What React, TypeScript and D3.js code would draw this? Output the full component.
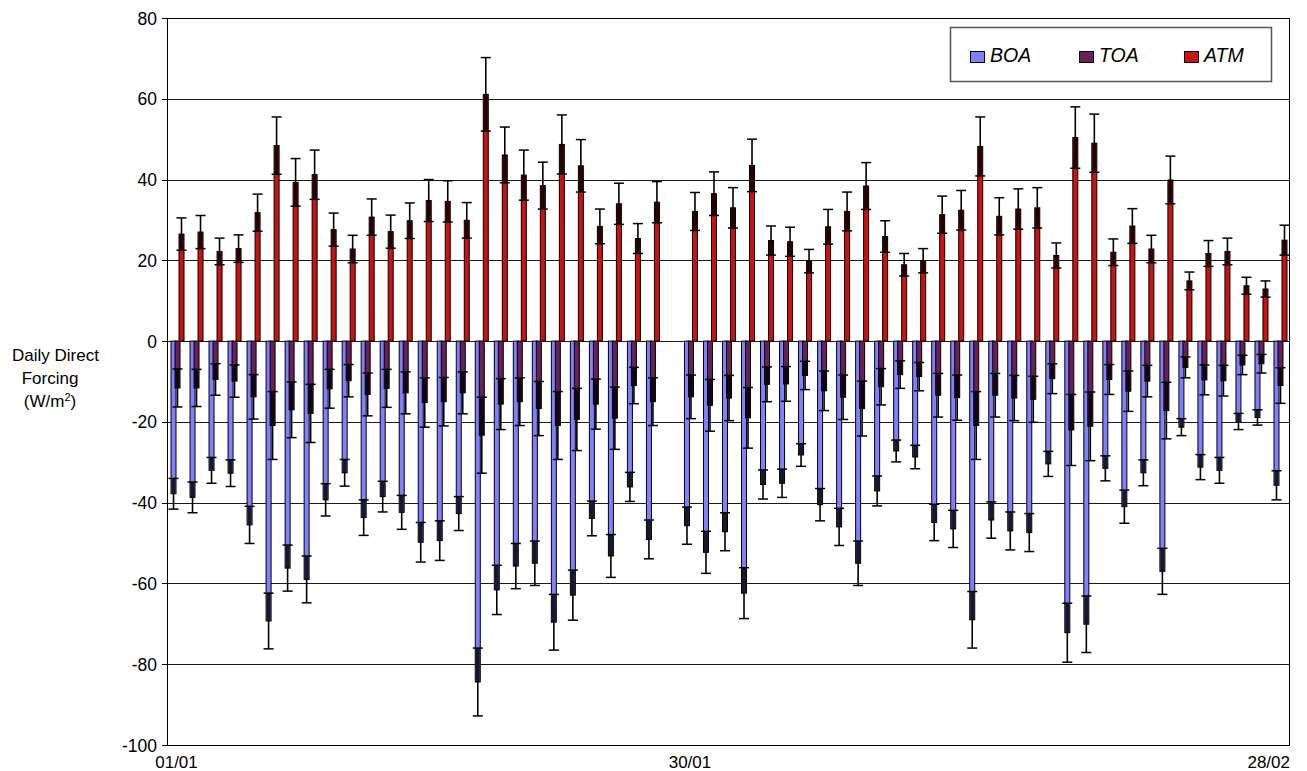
import React from "react";
import * as d3 from "d3";

// ---- data ----
const categoryCount = 59; // 01/01 .. 28/02 daily slots
const tickLabels = ["01/01", "30/01", "28/02"];
const tickCategory = [0, 27, 58];
const yTicks = [-100, -80, -60, -40, -20, 0, 20, 40, 60, 80];

const seriesNames = ["BOA", "TOA", "ATM"];
const seriesColors = ["#8080ff", "#6a1f55", "#cc1111"];

const ATM: (number | null)[] = [
  26.5, 27.0, 22.2, 22.9, 31.8, 48.4, 39.3, 41.2, 27.6, 22.8, 30.7, 27.1, 29.8, 34.8, 34.6, 29.9,
  61.1, 46.1, 41.1, 38.5, 48.7, 43.4, 28.4, 34.0, 25.4, 34.4, null, 32.1, 36.5, 33.0, 43.5, 24.9,
  24.6, 19.8, 28.3, 32.1, 38.4, 25.9, 18.9, 19.9, 31.3, 32.4, 48.2, 30.9, 32.7, 33.0, 21.2, 50.4,
  49.0, 22.0, 28.5, 22.8, 39.9, 14.9, 21.7, 22.2, 13.7, 12.9, 25.0,
];
const ATMerr: (number | null)[] = [
  4.0, 4.1, 3.3, 3.4, 4.6, 7.1, 5.9, 6.1, 4.1, 3.4, 4.5, 4.1, 4.4, 5.2, 5.1, 4.4,
  9.1, 6.9, 6.2, 5.8, 7.3, 6.5, 4.3, 5.1, 3.7, 5.1, null, 4.7, 5.4, 5.0, 6.5, 3.6,
  3.6, 2.9, 4.3, 4.8, 5.8, 3.9, 2.8, 3.0, 4.6, 4.9, 7.3, 4.6, 5.0, 5.0, 3.1, 7.6,
  7.2, 3.3, 4.3, 3.4, 5.9, 2.2, 3.2, 3.3, 2.1, 2.0, 3.7,
];
const TOA: (number | null)[] = [
  -11.6, -11.6, -9.5, -9.9, -13.8, -20.9, -17.0, -17.9, -11.8, -9.8, -13.2, -11.7, -12.8, -15.2, -15.0, -12.8,
  -23.3, -15.6, -15.0, -16.7, -20.9, -19.4, -15.6, -19.1, -11.0, -15.0, null, -13.8, -15.9, -14.1, -19.0, -10.7,
  -10.6, -8.5, -12.3, -13.9, -16.7, -11.3, -8.3, -8.8, -13.4, -14.0, -20.9, -13.4, -14.1, -14.4, -9.3, -22.0,
  -21.1, -9.5, -12.4, -9.9, -17.2, -6.5, -9.6, -9.8, -5.9, -5.6, -11.0,
];
const TOAerr: (number | null)[] = [
  4.7, 4.6, 3.9, 4.0, 5.5, 8.4, 6.9, 7.2, 4.8, 4.0, 5.3, 4.7, 5.2, 6.1, 6.0, 5.2,
  9.4, 6.3, 5.9, 6.7, 8.4, 7.7, 6.2, 7.7, 4.5, 5.9, null, 5.4, 6.4, 5.6, 7.5, 4.3,
  4.3, 3.5, 4.9, 5.5, 6.8, 4.5, 3.4, 3.5, 5.4, 5.6, 8.4, 5.4, 5.6, 5.7, 3.7, 8.8,
  8.5, 3.7, 5.0, 3.9, 7.0, 2.6, 3.7, 3.8, 2.4, 2.3, 4.4,
];
const BOA: (number | null)[] = [
  -37.8, -38.7, -32.0, -32.7, -45.5, -69.3, -56.2, -59.0, -39.3, -32.6, -43.7, -38.5, -42.4, -49.8, -49.4, -42.7,
  -84.4, -61.6, -55.7, -55.0, -69.6, -62.9, -43.9, -53.2, -36.1, -49.1, null, -45.7, -52.3, -47.2, -62.4, -35.5,
  -35.2, -28.2, -40.5, -46.0, -55.0, -37.1, -27.2, -28.7, -44.9, -46.5, -69.0, -44.3, -47.0, -47.4, -30.4, -72.2,
  -70.1, -31.5, -41.0, -32.6, -57.0, -21.3, -31.2, -32.0, -19.9, -18.9, -35.7,
];
const BOAerr: (number | null)[] = [
  3.8, 3.8, 3.2, 3.3, 4.6, 6.9, 5.7, 5.8, 4.0, 3.3, 4.4, 3.8, 4.2, 4.9, 4.9, 4.2,
  8.4, 6.1, 5.6, 5.5, 6.9, 6.2, 4.3, 5.3, 3.6, 4.8, null, 4.6, 5.2, 4.7, 6.3, 3.6,
  3.5, 2.8, 4.0, 4.6, 5.5, 3.7, 2.7, 2.9, 4.5, 4.6, 7.0, 4.5, 4.7, 4.7, 3.1, 7.3,
  7.0, 3.1, 4.1, 3.2, 5.7, 2.1, 3.1, 3.2, 2.0, 1.9, 3.6,
];

const seriesValues = [BOA, TOA, ATM];
const seriesErrors = [BOAerr, TOAerr, ATMerr];

// ---- layout ----
const W = 1307;
const H = 771;
const plot = { left: 167, right: 1289, top: 18, bottom: 745 };
const FONT = "'Liberation Sans', Arial, Helvetica, sans-serif";

export default function App() {
  const x = d3
    .scaleBand<number>()
    .domain(d3.range(categoryCount))
    .range([plot.left, plot.right])
    .padding(0);
  const y = d3.scaleLinear().domain([-100, 80]).range([plot.bottom, plot.top]);
  const barW = 5;
  const offsets = [-3, 1, 5];
  const capHalf = 5;
  const crisp = (v: number) => Math.round(v) + 0.5;

  const marks: React.ReactNode[] = [];
  d3.range(categoryCount).forEach((i) => {
    const c = (x(i) as number) + x.bandwidth() / 2;
    seriesValues.forEach((vals, s) => {
      const v = vals[i];
      const e = seriesErrors[s][i];
      if (v == null || e == null) return;
      const cx = c + offsets[s];
      const sign = v >= 0 ? 1 : -1;
      const y0 = y(0);
      const yv = y(v);
      const yOuter = y(v + sign * e);
      const yInner = y(v - sign * e);
      marks.push(
        <g key={`${i}-${s}`}>
          <rect
            x={cx - barW / 2}
            y={Math.min(y0, yv)}
            width={barW}
            height={Math.abs(yv - y0)}
            fill={seriesColors[s]}
            stroke="#000"
            strokeWidth={1}
          />
          <rect
            x={cx - barW / 2 + 0.5}
            y={Math.min(yv, yInner)}
            width={barW - 1}
            height={Math.abs(yInner - yv)}
            fill="#000"
            fillOpacity={0.82}
          />
          <line x1={cx} x2={cx} y1={yv} y2={yOuter} stroke="#000" strokeWidth={1.6} />
          <line x1={cx - capHalf} x2={cx + capHalf} y1={yOuter} y2={yOuter} stroke="#000" strokeWidth={1.5} />
          <line x1={cx - capHalf} x2={cx + capHalf} y1={yInner} y2={yInner} stroke="#000" strokeWidth={1.5} />
        </g>
      );
    });
  });

  const legendX = [970, 1079, 1184];

  return (
    <svg
      width={W}
      height={H}
      style={{ position: "absolute", left: 0, top: 0, background: "#fff" }}
      fontFamily={FONT}
    >
      <rect x={0} y={0} width={W} height={H} fill="#fff" />
      {/* gridlines */}
      {yTicks.map((t) => (
        <line
          key={`g${t}`}
          x1={plot.left}
          x2={plot.right}
          y1={crisp(y(t))}
          y2={crisp(y(t))}
          stroke="#1a1a1a"
          strokeWidth={1}
        />
      ))}
      {/* plot border */}
      <rect
        x={crisp(plot.left)}
        y={crisp(plot.top)}
        width={plot.right - plot.left}
        height={plot.bottom - plot.top}
        fill="none"
        stroke="#000"
        strokeWidth={1}
      />
      {/* y ticks */}
      {yTicks.map((t) => (
        <g key={`t${t}`}>
          <line x1={162} x2={plot.left} y1={crisp(y(t))} y2={crisp(y(t))} stroke="#000" strokeWidth={1} />
          <text x={157} y={y(t) + 6.5} textAnchor="end" fontSize={17.5} fill="#000">
            {t}
          </text>
        </g>
      ))}
      {marks}
      {/* x labels */}
      {tickLabels.map((lab, k) => {
        const cx = (x(tickCategory[k]) as number) + x.bandwidth() / 2;
        const half = 14.5;
        const overflow = cx + half > plot.right + 1;
        return (
          <text
            key={lab}
            x={overflow ? plot.right + 1 : cx}
            y={768}
            textAnchor={overflow ? "end" : "middle"}
            fontSize={17}
            fill="#000"
          >
            {lab}
          </text>
        );
      })}
      {/* y title */}
      <text fontSize={17} fill="#000" textAnchor="middle">
        <tspan x={55.5} y={361}>Daily Direct</tspan>
        <tspan x={50} y={384}>Forcing</tspan>
        <tspan x={50} y={407}>
          (W/m<tspan baselineShift="super" fontSize={11}>2</tspan>)
        </tspan>
      </text>
      {/* legend */}
      <rect x={950.5} y={27.5} width={321} height={54} fill="#fff" stroke="#555" strokeWidth={1.5} />
      {seriesNames.map((n, s) => (
        <g key={n}>
          <rect x={legendX[s] + 0.5} y={51.5} width={14} height={11} fill={seriesColors[s]} stroke="#000" strokeWidth={1} />
          <text x={legendX[s] + 20} y={62} fontSize={19.5} fontStyle="italic" fill="#000">
            {n}
          </text>
        </g>
      ))}
    </svg>
  );
}
